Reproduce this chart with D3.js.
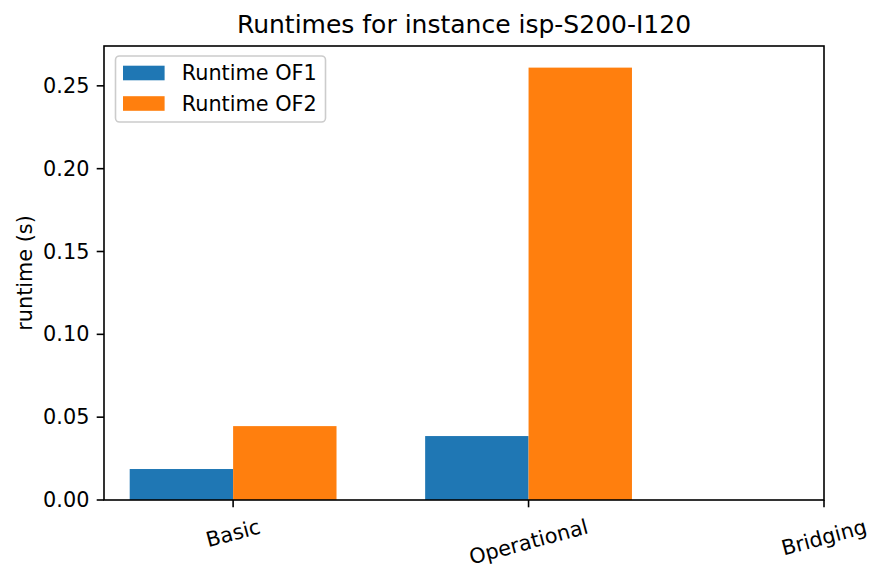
<!DOCTYPE html>
<html>
<head>
<meta charset="utf-8">
<script src="https://cdn.jsdelivr.net/npm/d3@7"></script>
<style>
  body { margin: 0; background: #fff; }
  svg { font-family: "DejaVu Sans", sans-serif; }
</style>
</head>
<body>
<script>
// data
var categories = ["Basic", "Operational", "Bridging"];
var seriesNames = ["Runtime OF1", "Runtime OF2"];
var of1 = [0.0187, 0.0386, 0];
var of2 = [0.0446, 0.261, 0];
var yTicks = [0, 0.05, 0.10, 0.15, 0.20, 0.25];
var colors = ["#1f77b4", "#ff7f0e"];

function plot_it() {
  var W = 883, H = 581;
  var margin = {left: 104, right: 824, top: 46, bottom: 500};
  var barW = 0.35;
  var fs = 20.8, tickLen = 7.3, pad = 7.3;

  var svg = d3.select("body").append("svg")
      .attr("width", W).attr("height", H);

  var x = d3.scaleLinear().domain([-0.437, 2.0]).range([margin.left, margin.right]);
  var yMax = d3.max(of1.concat(of2)) * 1.05;
  var y = d3.scaleLinear().domain([0, yMax]).range([margin.bottom, margin.top]);

  // bars
  [of1, of2].forEach(function(vals, s) {
    svg.append("g").selectAll("rect")
        .data(vals)
      .enter().append("rect")
        .attr("x", function(d, i) { return x(i + (s === 0 ? -barW : 0)); })
        .attr("width", x(barW) - x(0))
        .attr("y", function(d) { return y(d); })
        .attr("height", function(d) { return y(0) - y(d); })
        .attr("fill", colors[s]);
  });

  // frame
  svg.append("rect")
      .attr("x", margin.left).attr("y", margin.top)
      .attr("width", margin.right - margin.left).attr("height", margin.bottom - margin.top)
      .attr("fill", "none").attr("stroke", "#000").attr("stroke-width", 1.6);

  // y ticks
  var yg = svg.append("g");
  yTicks.forEach(function(t) {
    yg.append("line")
        .attr("x1", margin.left - tickLen).attr("x2", margin.left)
        .attr("y1", y(t)).attr("y2", y(t))
        .attr("stroke", "#000").attr("stroke-width", 1.6);
    yg.append("text")
        .attr("x", margin.left - tickLen - pad).attr("y", y(t))
        .attr("text-anchor", "end").attr("dominant-baseline", "central")
        .attr("font-size", fs)
        .text(t.toFixed(2));
  });

  // x ticks, labels rotated 15 degrees, bbox top aligned under tick
  var xg = svg.append("g");
  categories.forEach(function(c, i) {
    var cx = x(i);
    xg.append("line")
        .attr("x1", cx).attr("x2", cx)
        .attr("y1", margin.bottom).attr("y2", margin.bottom + tickLen)
        .attr("stroke", "#000").attr("stroke-width", 1.6);
    var t = xg.append("text")
        .attr("text-anchor", "middle").attr("dominant-baseline", "central")
        .attr("font-size", fs)
        .text(c);
    var w = t.node().getComputedTextLength();
    var h = fs * 1.16;
    var a = 15 * Math.PI / 180;
    var bh = w * Math.sin(a) + h * Math.cos(a);
    var cy = margin.bottom + tickLen + pad + bh / 2;
    t.attr("transform", "translate(" + cx + "," + cy + ") rotate(-15)");
  });

  // y label
  svg.append("text")
      .attr("transform", "translate(25," + ((margin.top + margin.bottom) / 2) + ") rotate(-90)")
      .attr("text-anchor", "middle").attr("dominant-baseline", "central")
      .attr("font-size", fs)
      .text("runtime (s)");

  // title
  svg.append("text")
      .attr("x", (margin.left + margin.right) / 2).attr("y", 33)
      .attr("text-anchor", "middle")
      .attr("font-size", 25)
      .text("Runtimes for instance isp-S200-I120");

  // legend
  var lg = svg.append("g");
  lg.append("rect")
      .attr("x", 115.5).attr("y", 56).attr("width", 210).attr("height", 66)
      .attr("rx", 4).attr("fill", "#fff").attr("fill-opacity", 0.8)
      .attr("stroke", "#ccc").attr("stroke-width", 1.6);
  seriesNames.forEach(function(n, i) {
    var cy = 73 + i * 30.5;
    lg.append("rect")
        .attr("x", 123).attr("y", cy - 7.3)
        .attr("width", 41.6).attr("height", 14.6)
        .attr("fill", colors[i]);
    lg.append("text")
        .attr("x", 181.7).attr("y", cy)
        .attr("dominant-baseline", "central")
        .attr("font-size", fs)
        .text(n);
  });
}

plot_it();
</script>
</body>
</html>
